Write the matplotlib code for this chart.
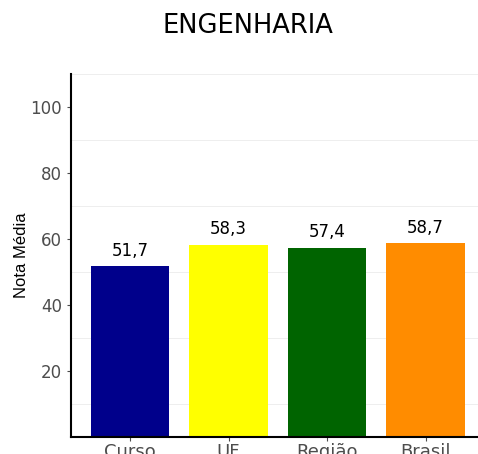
import matplotlib
matplotlib.use("Agg")
import matplotlib.pyplot as plt
import numpy as np

categories = ["Curso", "UF", "Região", "Brasil"]
values = [51.7, 58.3, 57.4, 58.7]
labels = ["51,7", "58,3", "57,4", "58,7"]
colors = ["#00008B", "#FFFF00", "#006400", "#FF8C00"]
yticks = [20, 40, 60, 80, 100]
minor_grid = [10, 30, 50, 70, 90, 110]

plt.rcParams['font.family'] = ['DejaVu Sans']

fig = plt.figure(figsize=(4.78, 4.54), dpi=100)
ax = fig.add_axes([71/478, 1 - 437/454, (484.6 - 71)/478, (437 - 74)/454])

x = np.arange(1, len(categories) + 1)
for yv in minor_grid:
    ax.axhline(yv, color="#EBEBEB", lw=0.6, zorder=0)
ax.bar(x, values, width=0.8, color=colors, zorder=2)
for xi, v, lab in zip(x, values, labels):
    ax.text(xi, v + 3.25, lab, ha="center", va="baseline", fontsize=12, color="black")

ax.set_xlim(0.4, 4.6)
ax.set_ylim(0, 110)
ax.set_xticks(x)
ax.set_xticklabels(categories)
ax.set_yticks(yticks)
ax.tick_params(axis="both", colors="#4D4D4D", length=3, width=0.8)
ax.tick_params(axis="y", labelsize=12)
ax.tick_params(axis="x", labelsize=13, pad=1)
for s in ["top", "right"]:
    ax.spines[s].set_visible(False)
for s in ["left", "bottom"]:
    ax.spines[s].set_color("black")
    ax.spines[s].set_linewidth(1.5)
ax.set_ylabel("Nota Média", fontsize=12, color="black", labelpad=1,
              family=["Liberation Sans", "DejaVu Sans"])
fig.text(248/478, 1 - 33.3/454, "ENGENHARIA", ha="center", va="baseline", fontsize=18.5, color="black")

fig.savefig("out.png", dpi=100)
